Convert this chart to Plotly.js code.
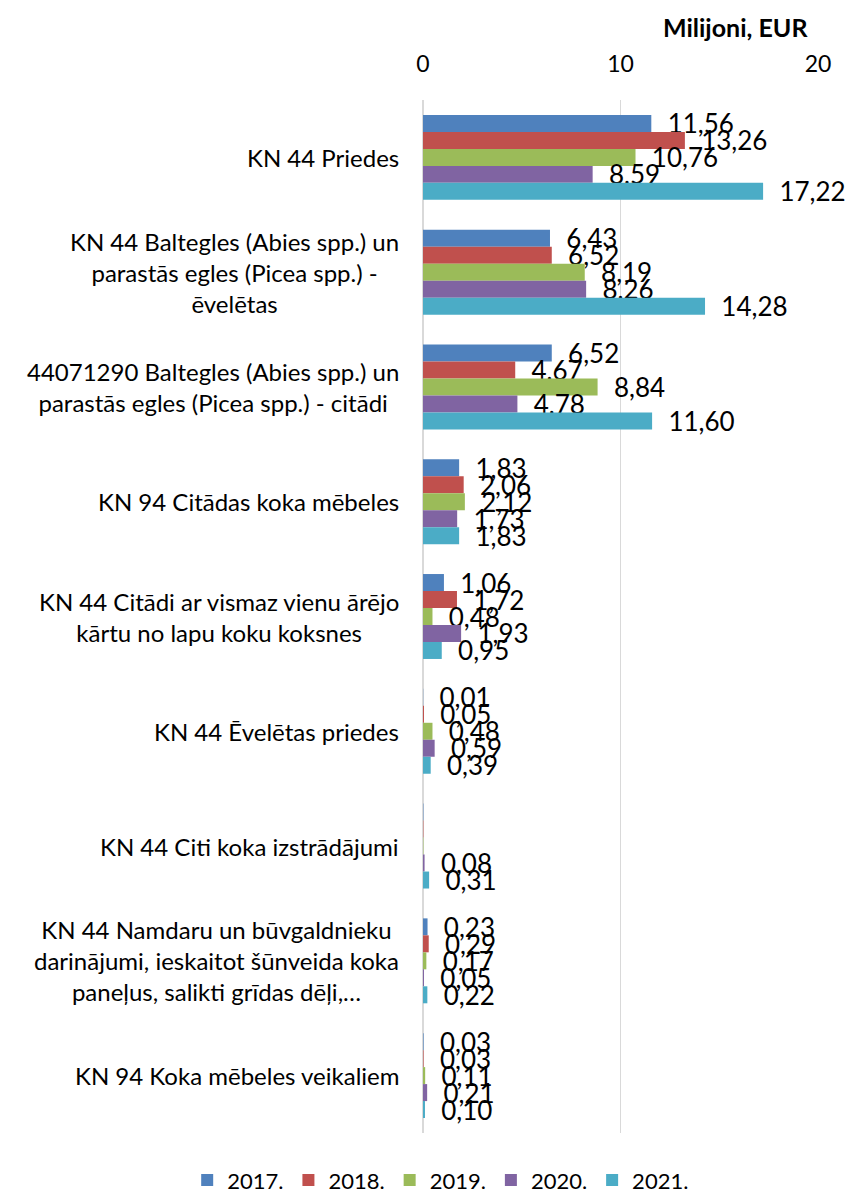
<!DOCTYPE html>
<html>
<head>
<meta charset="utf-8">
<script src="https://cdn.plot.ly/plotly-3.0.1.min.js"></script>
<style>html,body{margin:0;padding:0;background:#fff;}#chart{width:845px;height:1202px;}</style>
</head>
<body>
<div id="chart"></div>
<script>
const categories = [
  "KN 44 Priedes",
  "KN 44 Baltegles (Abies spp.) un<br>parastās egles (Picea spp.) -<br>ēvelētas",
  "44071290 Baltegles (Abies spp.) un<br>parastās egles (Picea spp.) - citādi",
  "KN 94 Citādas koka mēbeles",
  "KN 44 Citādi ar vismaz vienu ārējo<br>kārtu no lapu koku koksnes",
  "KN 44 Ēvelētas priedes",
  "KN 44 Citi koka izstrādājumi",
  "KN 44 Namdaru un būvgaldnieku<br>darinājumi, ieskaitot šūnveida koka<br>paneļus, salikti grīdas dēļi,…",
  "KN 94 Koka mēbeles veikaliem"
];
const years = ["2017.", "2018.", "2019.", "2020.", "2021."];
const v2017 = [11.56, 6.43, 6.52, 1.83, 1.06, 0.01, 0.02, 0.23, 0.03];
const v2018 = [13.26, 6.52, 4.67, 2.06, 1.72, 0.05, 0.02, 0.29, 0.03];
const v2019 = [10.76, 8.19, 8.84, 2.12, 0.48, 0.48, 0.02, 0.17, 0.11];
const v2020 = [8.59, 8.26, 4.78, 1.73, 1.93, 0.59, 0.08, 0.05, 0.21];
const v2021 = [17.22, 14.28, 11.60, 1.83, 0.95, 0.39, 0.31, 0.22, 0.10];
// labels hidden for these points in the original
const hiddenLabels = {"2017.": [6], "2018.": [6], "2019.": [6]};
const colors = ["#4F81BD", "#C0504D", "#9BBB59", "#8064A2", "#4BACC6"];
const series = [v2017, v2018, v2019, v2020, v2021];

const FONT = "Lato, 'Open Sans', sans-serif";
const fmt = v => v.toFixed(2).replace(".", ",");
const catIdx = categories.map((c, i) => i);

const traces = series.map((vals, i) => ({
  type: "bar",
  orientation: "h",
  name: years[i],
  y: catIdx,
  x: vals,
  marker: {color: colors[i]},
  text: vals.map((v, j) => (hiddenLabels[years[i]] || []).includes(j) ? "" : "\u00a0\u00a0" + fmt(v)),
  textposition: "outside",
  constraintext: "none",
  cliponaxis: false,
  textfont: {family: FONT, size: 26, color: "#000"},
  hoverinfo: "x+name"
}));

const annotations = categories.map((c, i) => ({
  xref: "paper", yref: "y", x: 0, y: i,
  xanchor: "right", yanchor: "middle", align: "center",
  xshift: -22,
  text: c, showarrow: false,
  font: {family: FONT, size: 24, color: "#000"}
}));
annotations.push({
  xref: "paper", yref: "paper", x: 1, y: 1,
  xanchor: "right", yanchor: "bottom", yshift: 56, xshift: -8,
  text: "<b>Milijoni, EUR</b>", showarrow: false,
  font: {family: FONT, size: 25, color: "#000"}
});

const layout = {
  width: 845, height: 1202,
  margin: {l: 423, r: 27, t: 100, b: 69, autoexpand: false},
  paper_bgcolor: "#fff", plot_bgcolor: "#fff",
  font: {family: FONT, color: "#000"},
  barmode: "group",
  bargap: 0.26,
  bargroupgap: 0,
  showlegend: true,
  legend: {
    orientation: "h", x: -0.597, xanchor: "left",
    y: -0.066, yanchor: "bottom",
    maxheight: 80,
    font: {family: FONT, size: 22, color: "#000"},
    traceorder: "normal"
  },
  xaxis: {
    side: "top", range: [0, 20], tickvals: [0, 10, 20], ticktext: ["0", "10", "20"],
    showgrid: true, gridcolor: "#D9D9D9", gridwidth: 1.5,
    zeroline: true, zerolinecolor: "#D9D9D9", zerolinewidth: 1.5,
    showline: false, ticks: "outside", ticklen: 18, tickcolor: "rgba(0,0,0,0)",
    tickfont: {family: FONT, size: 23, color: "#000"},
    fixedrange: true
  },
  yaxis: {
    range: [categories.length - 0.5, -0.5],
    showticklabels: false, showgrid: false, zeroline: false, showline: false, ticks: "",
    fixedrange: true
  },
  annotations: annotations
};

Plotly.newPlot("chart", traces, layout, {displayModeBar: false, staticPlot: true});
</script>
</body>
</html>
